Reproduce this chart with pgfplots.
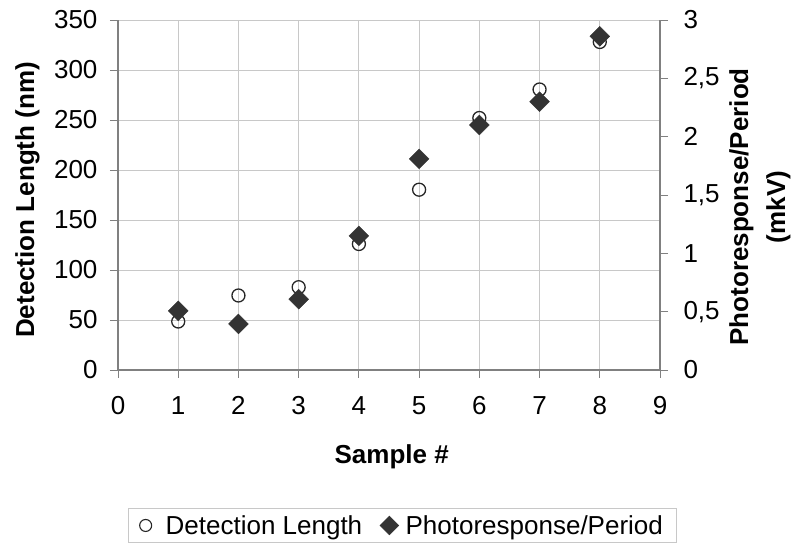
\documentclass[border=0pt]{standalone}
\usepackage{fontspec}
\setmainfont{Liberation Sans}
\usepackage{pgfplots}
\pgfplotsset{compat=1.18}
\definecolor{axgray}{HTML}{808080}
\definecolor{gridgray}{HTML}{C8C8C8}
\definecolor{diam}{HTML}{333333}
\newcommand{\fs}{\fontsize{26}{30}\selectfont}
\newcommand{\fl}{\fontsize{26}{30}\selectfont}
\begin{document}
\begin{tikzpicture}[x=1pt,y=1pt]
\path[use as bounding box] (0,0) rectangle (794,553);
\begin{axis}[
  at={(118pt,183pt)}, anchor=south west,
  scale only axis, width=542pt, height=350pt,
  xmin=0, xmax=9, ymin=0, ymax=350,
  xtick={0,1,...,9}, ytick={0,50,...,350},
  axis lines*=left,
  grid=major, major grid style={color=gridgray, line width=0.8pt},
  axis line style={color=axgray, line width=1.2pt},
  tick style={color=axgray, line width=0.8pt},
  tick align=outside, major tick length=8pt,
  /pgf/number format/assume math mode=true,
  tick label style={font=\fs},
  xticklabel style={yshift=-15pt},
  yticklabel style={xshift=-9pt},
  xlabel={\textbf{Sample \#}},
  ylabel={\textbf{Detection Length (nm)}},
  label style={font=\fl},
  xlabel style={at={(axis description cs:0.505,0)}, anchor=center, yshift=-87pt},
  ylabel style={at={(axis description cs:-0.167,0.486)}, anchor=center, rotate=0},
  legend columns=2,
  legend style={at={(axis description cs:0.5245,-0.394)}, anchor=north,
    draw=gridgray, line width=0.8pt, font=\fs,
    inner xsep=11pt, inner ysep=5pt,
    /tikz/column 1/.style={column sep=12pt},
    /tikz/column 2/.style={column sep=16pt},
    /tikz/column 3/.style={column sep=5pt}},
  legend cell align=left,
  clip=false,
]
\addplot[forget plot, only marks, mark=o, mark size=6.5pt, mark options={line width=1.3pt, draw=black!85}]
  coordinates {(1,48.5) (2,74.5) (3,82.8) (4,126) (5,180.3) (6,252) (7,280.5) (8,328)};
\addlegendimage{only marks, mark=o, mark size=6pt, mark options={line width=1.1pt, draw=black!85}}
\addlegendentry{Detection Length}
\addlegendimage{only marks, mark=square*, mark size=6.5pt, mark options={rotate=45, fill=diam, draw=diam}}
\addlegendentry{Photoresponse/Period}
\end{axis}
\begin{axis}[
  at={(118pt,183pt)}, anchor=south west,
  scale only axis, width=542pt, height=350pt,
  xmin=0, xmax=9, ymin=0, ymax=3,
  axis x line=none, axis y line*=right,
  ytick={0,0.5,...,3},
  axis line style={color=axgray, line width=1.2pt},
  tick style={color=axgray, line width=0.8pt},
  tick align=outside, major tick length=8pt,
  /pgf/number format/assume math mode=true,
  /pgf/number format/use comma,
  tick label style={font=\fs},
  yticklabel style={xshift=12pt},
  ylabel={\textbf{Photoresponse/Period}\\\textbf{(mkV)}},
  ylabel style={at={(axis description cs:1.1845,0.466)}, anchor=center, rotate=0, align=center, font=\fontsize{26}{37}\selectfont},
  clip=false,
]
\addplot[only marks, mark=square*, mark size=7pt, mark options={rotate=45, fill=diam, draw=diam}]
  coordinates {(1,0.507) (2,0.395) (3,0.607) (4,1.15) (5,1.81) (6,2.10) (7,2.30) (8,2.86)};
\end{axis}
\end{tikzpicture}
\end{document}
